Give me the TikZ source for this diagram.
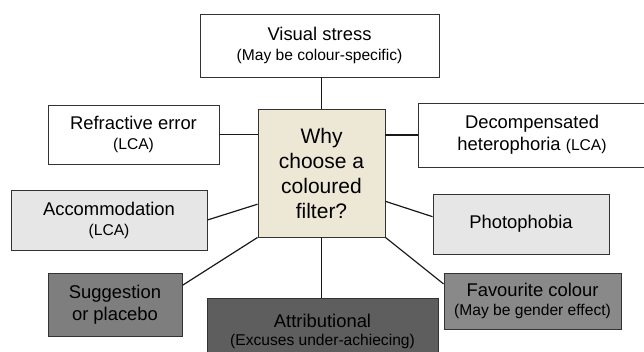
\documentclass[tikz,border=0pt]{standalone}
\usepackage{fontspec}
\setmainfont{Liberation Sans}
\usetikzlibrary{calc}
\definecolor{beige}{RGB}{237,232,214}
\definecolor{lightg}{RGB}{230,230,230}
\definecolor{midg}{RGB}{126,126,126}
\definecolor{favg}{RGB}{137,137,137}
\definecolor{darkg}{RGB}{94,94,94}
\newcommand{\subf}{\fontsize{15.6}{19}\selectfont}
\begin{document}
\begin{tikzpicture}[x=1pt,y=1pt,
  box/.style={draw=black!80, line width=0.9pt, inner sep=0pt, align=center,
    font=\fontsize{18.4}{22}\selectfont, text=black},
  link/.style={line width=1.2pt, black!90}]
\useasboundingbox (0,0) rectangle (644,352);
\node[box, fill=white, minimum width=239pt, minimum height=63pt] (vs) at (319.5,306.5)
  {Visual stress\\[-2pt]{\subf (May be colour-specific)}};
\node[box, fill=white, minimum width=171pt, minimum height=59pt] (ref) at (133.5,217.5)
  {Refractive error\\[-2pt]{\subf (LCA)}};
\node[box, fill=beige, minimum width=127pt, minimum height=128pt,
  font=\fontsize{21}{25}\selectfont] (c) at (321.5,179)
  {Why\\choose a\\coloured\\filter?};
\node[box, fill=white, minimum width=228pt, minimum height=64pt] (dec) at (532,217)
  {Decompensated\\heterophoria {\subf (LCA)}};
\node[box, fill=lightg, minimum width=196pt, minimum height=60pt] (acc) at (109,132)
  {Accommodation\\[-2pt]{\subf (LCA)}};
\node[box, fill=lightg, minimum width=176pt, minimum height=60pt] (ph) at (521,128)
  {Photophobia};
\node[box, fill=midg, minimum width=134pt, minimum height=63pt] (sug) at (115,47.5)
  {Suggestion\\or placebo};
\node[box, fill=favg, minimum width=177pt, minimum height=56pt] (fav) at (532.5,51)
  {Favourite colour\\[-3pt]{\subf (May be gender effect)}};
\node[box, fill=darkg, minimum width=231pt, minimum height=66pt] (att) at (322.5,21)
  {Attributional\\[-4pt]{\subf (Excuses under-achiecing)}};
\draw[link] (vs.south -| c.north) -- (c.north);
\draw[link] (ref.east) -- (ref.east -| c.west);
\draw[link] (dec.west) -- (dec.west -| c.east);
\draw[link] (acc.east) -- ($(c.north west)!0.742!(c.south west)$);
\draw[link] ($(sug.north east)!0.2!(sug.south east)$) -- (c.south west);
\draw[link] (c.south) -- (c.south |- att.north);
\draw[link] ($(c.north east)!0.72!(c.south east)$) -- ($(ph.north west)!0.38!(ph.south west)$);
\draw[link] (c.south east) -- ($(fav.north west)!0.2!(fav.south west)$);
\end{tikzpicture}
\end{document}
